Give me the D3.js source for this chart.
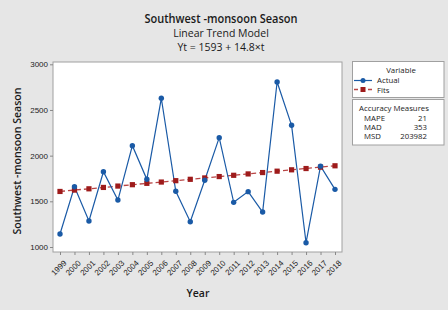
<!DOCTYPE html>
<html><head><meta charset="utf-8">
<script src="https://cdn.jsdelivr.net/npm/d3@7"></script>
<style>body{margin:0;background:#e6e6e6;}svg{display:block;font-family:"Open Sans","Noto Sans",sans-serif;}</style>
</head><body><svg id="c" width="448" height="310"></svg>
<script>
const years = ["1999","2000","2001","2002","2003","2004","2005","2006","2007","2008","2009","2010","2011","2012","2013","2014","2015","2016","2017","2018"];
const actual = [1142,1660,1285,1824,1514,2109,1741,2628,1610,1277,1730,2197,1489,1606,1383,2806,2332,1047,1885,1631];
const fits = [1608,1623,1637,1652,1667,1682,1697,1711,1726,1741,1756,1771,1785,1800,1815,1830,1845,1859,1874,1889];
const yTicks = [1000,1500,2000,2500,3000];
const measures = [["MAPE","21"],["MAD","353"],["MSD","203982"]];

const svg = d3.select("#c");
const L=53,R=342,T=62,B=252;
const x = d3.scalePoint().domain(years).range([60,335]);
const y = d3.scaleLinear().domain([1000,3000]).range([247,64.3]);
const blue="#1a5aa6", red="#9e1b1b", redLine="#b84545";

svg.append("rect").attr("x",L).attr("y",T).attr("width",R-L).attr("height",B-T).attr("fill","#fff").attr("stroke","#a0a0a0").attr("stroke-width",1);

// titles
const tg = svg.append("g").attr("text-anchor","middle").attr("fill","#1a1a1a");
tg.append("text").attr("x",221).attr("y",23).attr("font-size",12.5).attr("font-weight",600)
  .attr("textLength",153).attr("lengthAdjust","spacingAndGlyphs").text("Southwest -monsoon Season");
tg.append("text").attr("x",221).attr("y",37).attr("font-size",10.5).text("Linear Trend Model");
tg.append("text").attr("x",221).attr("y",50.5).attr("font-size",10.5).text("Yt = 1593 + 14.8×t");

// axes
const ya = svg.append("g").attr("transform",`translate(${L},0)`)
  .call(d3.axisLeft(y).tickValues(yTicks).tickFormat(d3.format("d")).tickSize(3).tickPadding(2));
ya.select(".domain").remove();
ya.selectAll("line").attr("stroke","#888");
ya.selectAll("text").attr("font-size",8).attr("fill","#222").style("font-family","inherit");

const xa = svg.append("g").attr("transform",`translate(0,${B})`)
  .call(d3.axisBottom(x).tickSize(3).tickPadding(2));
xa.select(".domain").remove();
xa.selectAll("line").attr("stroke","#888");
xa.selectAll("text").attr("font-size",8).attr("fill","#222").style("font-family","inherit")
  .attr("text-anchor","end").attr("dy",0).attr("dx",0)
  .attr("transform","translate(3,8) rotate(-45)");

svg.append("text").attr("x",198).attr("y",297).attr("text-anchor","middle").attr("font-size",10.5).attr("font-weight",600).attr("fill","#1a1a1a").text("Year");
svg.append("text").attr("transform",`translate(21,161) rotate(-90)`).attr("text-anchor","middle").attr("font-size",10.5).attr("font-weight",600).attr("fill","#1a1a1a")
  .attr("textLength",147).attr("lengthAdjust","spacingAndGlyphs").text("Southwest -monsoon Season");

// fits
const line = d3.line().x((d,i)=>x(years[i])).y(d=>y(d));
svg.append("path").datum(fits).attr("d",line).attr("fill","none").attr("stroke",redLine).attr("stroke-width",1.3).attr("stroke-dasharray","5,3");
// actual
svg.append("path").datum(actual).attr("d",line).attr("fill","none").attr("stroke",blue).attr("stroke-width",1.2);
svg.selectAll(".fp").data(fits).enter().append("rect").attr("x",(d,i)=>x(years[i])-2.6).attr("y",d=>y(d)-2.6).attr("width",5.2).attr("height",5.2).attr("fill",red);
svg.selectAll(".ap").data(actual).enter().append("circle").attr("cx",(d,i)=>x(years[i])).attr("cy",d=>y(d)).attr("r",2.7).attr("fill",blue);

// legend
const lg = svg.append("g").attr("font-size",7.8).attr("fill","#1a1a1a");
lg.append("rect").attr("x",352.5).attr("y",61.5).attr("width",91.5).attr("height",36).attr("fill","#fff").attr("stroke","#a0a0a0");
lg.append("text").attr("x",401).attr("y",72.5).attr("text-anchor","middle").text("Variable");
lg.append("line").attr("x1",354).attr("x2",372).attr("y1",80.5).attr("y2",80.5).attr("stroke",blue).attr("stroke-width",1.2);
lg.append("circle").attr("cx",363).attr("cy",80.5).attr("r",2.5).attr("fill",blue);
lg.append("text").attr("x",377).attr("y",83).text("Actual");
lg.append("line").attr("x1",354).attr("x2",372).attr("y1",89.5).attr("y2",89.5).attr("stroke",redLine).attr("stroke-width",1.3).attr("stroke-dasharray","4,3");
lg.append("rect").attr("x",360.5).attr("y",87).attr("width",5).attr("height",5).attr("fill",red);
lg.append("text").attr("x",377).attr("y",92.5).text("Fits");

lg.append("rect").attr("x",352.5).attr("y",99.5).attr("width",91.5).attr("height",45.5).attr("fill","#fff").attr("stroke","#a0a0a0");
lg.append("text").attr("x",394).attr("y",111).attr("text-anchor","middle").text("Accuracy Measures");
measures.forEach((m,i)=>{
  lg.append("text").attr("x",364).attr("y",120.5+i*9).text(m[0]);
  lg.append("text").attr("x",427).attr("y",120.5+i*9).attr("text-anchor","end").text(m[1]);
});
</script></body></html>
